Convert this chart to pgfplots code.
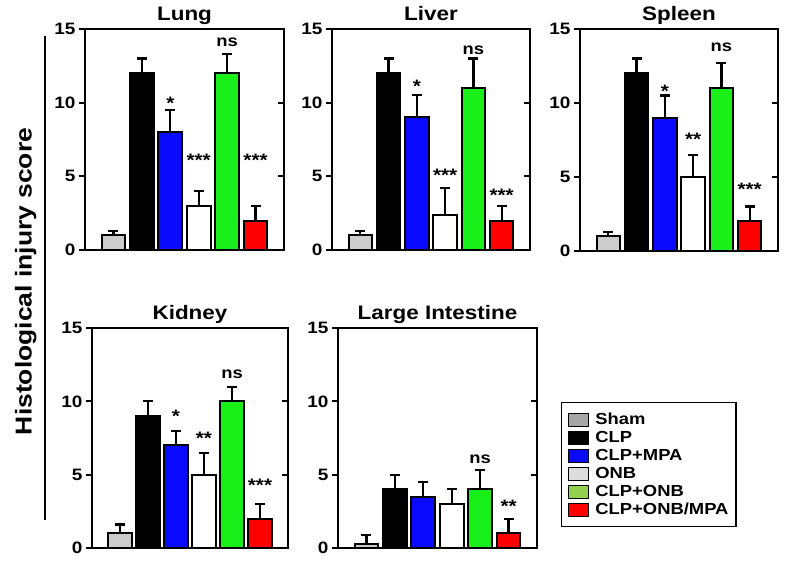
\documentclass[border=0pt]{standalone}
\usepackage{fontspec}
\setmainfont{Liberation Sans}[FakeStretch=1.15]
\usepackage{pgfplots}
\usepackage{pgfplotstable}
\pgfplotsset{compat=1.18}

\definecolor{cSham}{RGB}{204,204,204}
\definecolor{cCLP}{RGB}{0,0,0}
\definecolor{cMPA}{RGB}{10,10,255}
\definecolor{cONB}{RGB}{255,255,255}
\definecolor{cCONB}{RGB}{25,240,25}
\definecolor{cRED}{RGB}{255,0,0}
\definecolor{lSham}{RGB}{166,166,166}
\definecolor{lONB}{RGB}{220,220,220}
\definecolor{lCONB}{RGB}{146,208,80}

% x = group (1 Sham, 2 CLP, 3 CLP+MPA, 4 ONB, 5 CLP+ONB, 6 CLP+ONB/MPA)
\pgfplotstableread{
x y e
1 1 0.3
2 12 1
3 8 1.5
4 3 1
5 12 1.3
6 2 1
}\lung
\pgfplotstableread{
x y e
1 1 0.3
2 12 1
3 9 1.5
4 2.4 1.8
5 11 2
6 2 1
}\liver
\pgfplotstableread{
x y e
1 1 0.3
2 12 1
3 9 1.5
4 5 1.5
5 11 1.7
6 2 1
}\spleen
\pgfplotstableread{
x y e
1 1 0.6
2 9 1
3 7 1
4 5 1.5
5 10 1
6 2 1
}\kidney
\pgfplotstableread{
x y e
1 0.3 0.6
2 4 1
3 3.5 1
4 3 1
5 4 1.3
6 1 1
}\lint

\pgfplotsset{
  panel/.style={
    scale only axis, anchor=south west,
    xmin=0, xmax=7, ymin=0, ymax=15,
    ytick={0,5,10,15}, xtick=\empty,
    ytick pos=left, tick align=outside, major tick length=6pt,
    axis line style={line width=2.2pt},
    every tick/.style={line width=2pt, black},
    yticklabel style={font=\fontsize{16.5}{16.5}\selectfont\bfseries},
    /pgf/number format/assume math mode=true,
    title style={font=\fontsize{19.5}{20}\selectfont\bfseries, anchor=base, at={(0.5,1)}, yshift=2pt},
    clip=false,
    after end axis/.code={
      \draw[line width=2pt] (axis cs:7,5) -- ++(-6pt,0);
      \draw[line width=2pt] (axis cs:7,10) -- ++(-6pt,0);
    },
  },
  bstyle/.style={ybar, bar width=0.83, bar shift=0pt, draw=black, line width=2pt,
    error bars/y dir=plus, error bars/y explicit,
    error bars/error bar style={line width=2.2pt, black},
    error bars/error mark options={rotate=90, line width=2.2pt, mark size=5pt, black}},
  legsq/.style={legend image code/.code={\draw[##1] (0pt,-6.5pt) rectangle (20pt,6.5pt); \path (25pt,0pt);}},
}

\newcommand\sixbars[1]{%
  \addplot[bstyle, fill=cSham, restrict x to domain=0.5:1.5] table[x=x,y=y,y error=e]{#1};
  \addplot[bstyle, fill=cCLP, restrict x to domain=1.5:2.5] table[x=x,y=y,y error=e]{#1};
  \addplot[bstyle, fill=cMPA, restrict x to domain=2.5:3.5] table[x=x,y=y,y error=e]{#1};
  \addplot[bstyle, fill=cONB, restrict x to domain=3.5:4.5] table[x=x,y=y,y error=e]{#1};
  \addplot[bstyle, fill=cCONB, restrict x to domain=4.5:5.5] table[x=x,y=y,y error=e]{#1};
  \addplot[bstyle, fill=cRED, restrict x to domain=5.5:6.5] table[x=x,y=y,y error=e]{#1};
}
\newcommand\ann[3]{\node[anchor=base, inner sep=0pt, font=\fontsize{16}{16}\selectfont\bfseries] at (axis cs:#1,#2) {#3};}
\newcommand\st[3]{\node[anchor=base, inner sep=0pt, font=\fontsize{18}{18}\selectfont\bfseries] at (axis cs:#1,#2) {#3};}

\begin{document}
\begin{tikzpicture}
\useasboundingbox (0,0) rectangle (786pt,564pt);

% Lung
\begin{axis}[panel, at={(85pt,314pt)}, width=199pt, height=221pt, title={Lung}]
\sixbars{\lung}
\st{3}{9.55}{*}
\st{4}{5.64}{***}
\ann{5}{13.8}{ns}
\st{6}{5.64}{***}
\end{axis}

% Liver
\begin{axis}[panel, at={(332pt,314pt)}, width=198pt, height=221pt, title={Liver}]
\sixbars{\liver}
\st{3}{10.66}{*}
\st{4}{4.62}{***}
\ann{5}{13.3}{ns}
\st{6}{3.26}{***}
\end{axis}

% Spleen
\begin{axis}[panel, at={(580pt,313pt)}, width=198pt, height=222pt, title={Spleen}]
\sixbars{\spleen}
\st{3}{10.35}{*}
\st{4}{7.14}{**}
\ann{5}{13.47}{ns}
\st{6}{3.74}{***}
\end{axis}

% Kidney
\begin{axis}[panel, at={(92pt,16pt)}, width=196pt, height=220pt, title={Kidney}]
\sixbars{\kidney}
\st{3}{8.53}{*}
\st{4}{7.05}{**}
\ann{5}{11.57}{ns}
\st{6}{3.87}{***}
\end{axis}

% Large Intestine
\begin{axis}[panel, at={(338pt,16pt)}, width=199pt, height=220pt, title={Large Intestine},
  legend style={at={(1.1206,0.6636)}, anchor=north west, draw=black, line width=1.4pt,
    font=\fontsize{16}{16}\selectfont\bfseries, inner xsep=6pt, inner ysep=8pt,
    row sep=0pt, nodes={text height=11.8pt, text depth=3.2pt, inner sep=1.5pt}},
  legend cell align=left]
\addlegendimage{legsq, fill=lSham, draw=black, line width=1.2pt}
\addlegendimage{legsq, fill=black, draw=black, line width=1.2pt}
\addlegendimage{legsq, fill=cMPA, draw=black, line width=1.2pt}
\addlegendimage{legsq, fill=lONB, draw=black, line width=1.2pt}
\addlegendimage{legsq, fill=lCONB, draw=black, line width=1.2pt}
\addlegendimage{legsq, fill=cRED, draw=black, line width=1.2pt}
\legend{Sham, CLP, CLP+MPA, ONB, CLP+ONB, CLP+ONB/MPA}
\sixbars{\lint}
\ann{5}{5.73}{ns}
\st{6}{2.39}{**}
\end{axis}

\draw[line width=2.2pt] (45pt,44pt) -- (45pt,528pt);
\node[rotate=90, anchor=base, inner sep=0pt, font=\fontsize{23}{23}\selectfont\bfseries] at (31.7pt,282.5pt) {Histological injury score};
\end{tikzpicture}
\end{document}
